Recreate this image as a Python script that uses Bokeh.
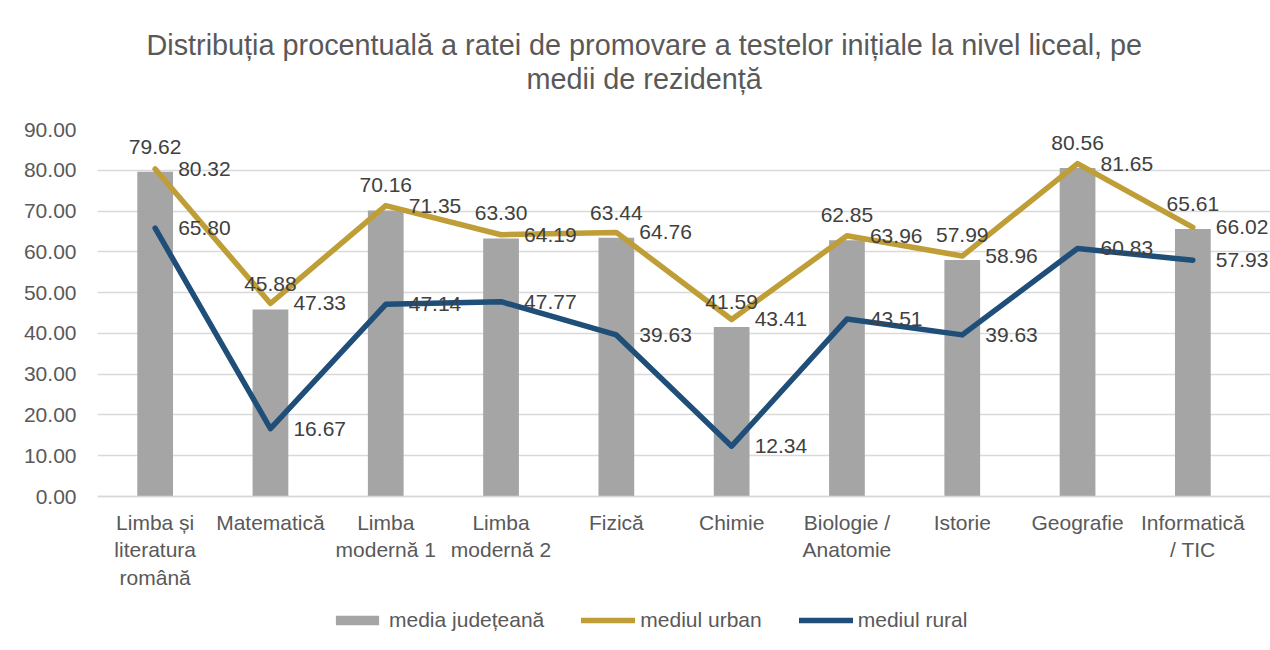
from bokeh.plotting import figure
from bokeh.models import ColumnDataSource, Legend, LegendItem, Range1d, FixedTicker, PrintfTickFormatter, Title, LabelSet
from bokeh.core.properties import value
from bokeh.embed import file_html
from bokeh.resources import INLINE

categories = ["Limba și\nliteratura\nromână", "Matematică", "Limba\nmodernă 1", "Limba\nmodernă 2",
              "Fizică", "Chimie", "Biologie /\nAnatomie", "Istorie", "Geografie", "Informatică\n/ TIC"]
media_judeteana = [79.62, 45.88, 70.16, 63.30, 63.44, 41.59, 62.85, 57.99, 80.56, 65.61]
mediul_urban = [80.32, 47.33, 71.35, 64.19, 64.76, 43.41, 63.96, 58.96, 81.65, 66.02]
mediul_rural = [65.80, 16.67, 47.14, 47.77, 39.63, 12.34, 43.51, 39.63, 60.83, 57.93]
y_ticks = [0, 10, 20, 30, 40, 50, 60, 70, 80, 90]
series_names = ["media județeană", "mediul urban", "mediul rural"]
title_lines = ["Distribuția procentuală a ratei de promovare a testelor inițiale la nivel liceal, pe",
               "medii de rezidență"]

FONT = "Liberation Sans"
LBL_SIZE = "21px"
BAR_C = "#a5a5a5"
URB_C = "#bf9e37"
RUR_C = "#1f4e79"

xpos = list(range(1, len(categories) + 1))

src = ColumnDataSource(dict(
    x=xpos,
    media=media_judeteana,
    urban=mediul_urban,
    rural=mediul_rural,
    media_t=[f"{v:.2f}" for v in media_judeteana],
    urban_t=[f"{v:.2f}" for v in mediul_urban],
    rural_t=[f"{v:.2f}" for v in mediul_rural],
))

# plot frame: 90 -> 129px, 0 -> 496px; frame continues down to the legend
FRAME_H = 521
Y_MAX = 90
Y_MIN = -(FRAME_H - 367) * Y_MAX / 367

p = figure(frame_width=1173, frame_height=FRAME_H, output_backend="svg", toolbar_location=None,
           x_range=Range1d(0.5, len(categories) + 0.5 + 20 / 115.3),
           y_range=Range1d(Y_MIN, Y_MAX),
           min_border_left=97, min_border_right=0, min_border_top=129, min_border_bottom=0)

def style_title(t, size, offset):
    t.align = "left"
    t.text_font = FONT
    t.text_font_size = size
    t.text_font_style = "normal"
    t.text_color = "#595959"
    t.offset = offset
    t.standoff = 0

# title panels: added ones stack outward from the plot, p.title stays outermost
p.title.text = title_lines[0]
style_title(p.title, "28.8px", 49)
spacer = Title(text=" ")
style_title(spacer, "28px", 0)
spacer.standoff = 2
p.add_layout(spacer, "above")
t2 = Title(text=title_lines[1])
style_title(t2, "28.8px", 429)
p.add_layout(t2, "above")

bars = p.vbar(x="x", top="media", width=0.31, source=src, fill_color=BAR_C, line_color=None)
lu = p.line(x="x", y="urban", source=src, line_color=URB_C, line_width=5.5,
            line_join="round", line_cap="round")
lr = p.line(x="x", y="rural", source=src, line_color=RUR_C, line_width=5.5,
            line_join="round", line_cap="round")

lab_kw = dict(source=src, text_font=value(FONT), text_font_size=LBL_SIZE, text_color="#404040")
p.add_layout(LabelSet(x="x", y="media", text="media_t", text_align="center", text_baseline="alphabetic",
                      y_offset=18, **lab_kw))
p.add_layout(LabelSet(x="x", y="urban", text="urban_t", text_align="left", text_baseline="middle",
                      x_offset=23, **lab_kw))
p.add_layout(LabelSet(x="x", y="rural", text="rural_t", text_align="left", text_baseline="middle",
                      x_offset=23, **lab_kw))

p.outline_line_color = None
p.xgrid.grid_line_color = None
p.ygrid.ticker = FixedTicker(ticks=y_ticks)
p.ygrid.grid_line_color = "#d9d9d9"
p.ygrid.grid_line_width = 1.5

p.yaxis.ticker = FixedTicker(ticks=y_ticks)
p.yaxis.formatter = PrintfTickFormatter(format="%.2f")
p.yaxis.axis_line_color = None
p.yaxis.major_tick_line_color = None
p.yaxis.minor_tick_line_color = None
p.yaxis.major_label_standoff = 15

p.xaxis.fixed_location = 0
p.xaxis.ticker = FixedTicker(ticks=xpos)
p.xaxis.major_label_overrides = {x: c for x, c in zip(xpos, categories)}
p.xaxis.minor_tick_line_color = None
p.xaxis.axis_line_color = "#d9d9d9"
p.xaxis.axis_line_width = 1.5
p.xaxis.major_tick_line_color = None
p.xaxis.major_label_standoff = 8

for ax in (p.xaxis, p.yaxis):
    ax.major_label_text_font = FONT
    ax.major_label_text_font_size = LBL_SIZE
    ax.major_label_text_color = "#595959"

legend = Legend(items=[
    LegendItem(label=series_names[0], renderers=[bars]),
    LegendItem(label=series_names[1], renderers=[lu]),
    LegendItem(label=series_names[2], renderers=[lr]),
], orientation="horizontal", location=(233, 18))
legend.label_text_font = FONT
legend.label_text_font_size = LBL_SIZE
legend.label_text_color = "#595959"
legend.glyph_width = 54
legend.glyph_height = 12
legend.label_standoff = 5
legend.spacing = 37
legend.padding = 0
legend.margin = 0
legend.border_line_color = None
legend.background_fill_alpha = 0
p.add_layout(legend)

open("out.html", "w").write(file_html(p, INLINE))
